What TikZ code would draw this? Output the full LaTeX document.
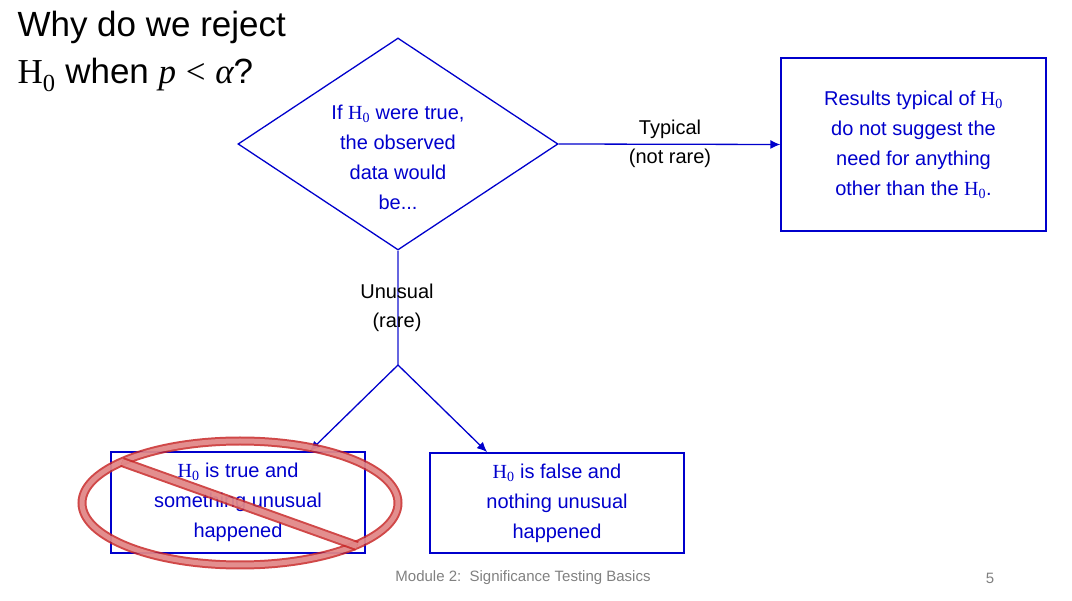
\documentclass[tikz,border=0pt]{standalone}
\usepackage{fontspec}
\setmainfont{Liberation Sans}
\setsansfont{Liberation Sans}
\newfontfamily\serifm{Liberation Serif}
\usetikzlibrary{shapes.geometric,arrows.meta}
\definecolor{bl}{RGB}{0,0,204}
\definecolor{rd}{RGB}{200,40,40}
\definecolor{pk}{RGB}{240,190,190}
\newcommand{\Hz}{{\serifm H\textsubscript{0}}}
\begin{document}
\begin{tikzpicture}[x=1pt,y=-1pt,
  box/.style={draw=bl,line width=1.3pt,align=center,text=bl,font=\fontsize{20}{30}\selectfont},
  arr/.style={draw=bl,line width=1.3pt,-{Latex[length=10pt,width=9pt]}},
  lab/.style={align=center,font=\sffamily\fontsize{20}{29}\selectfont}]
\useasboundingbox (0,0) rectangle (1072,601);
\node[anchor=north west,align=left,font=\sffamily\fontsize{35}{47}\selectfont] (title) at (14,8) {Why do we reject\\\Hz{} when {\serifm\itshape p} {\serifm <} {\serifm\itshape α}?};
\node[diamond,draw=bl,line width=1.3pt,minimum width=320pt,minimum height=212pt,inner sep=0pt] (d) at (398,144) {};
\node[align=center,text=bl,font=\fontsize{20}{30}\selectfont] (dt) at (398,157) {If \Hz{} were true,\\the observed\\data would\\be...};
\node[box,minimum width=265pt,minimum height=173pt] (r) at (913.5,144.5) {Results typical of \Hz\\do not suggest the\\need for anything\\other than the \Hz.};
\draw[arr] (d.east) -- (r.west);
\node[lab] (typ) at (670,144) {Typical\\(not rare)};
\coordinate (j) at (398,365);
\draw[bl!60,line width=1.3pt] (d.south) -- (j);
\node[lab] (un) at (397,308) {Unusual\\(rare)};
\node[box,minimum width=254pt,minimum height=101pt] (lb) at (238,502.5) {\Hz{} is true and\\something unusual\\happened};
\node[box,minimum width=254pt,minimum height=100pt] (rb) at (557,503) {\Hz{} is false and\\nothing unusual\\happened};
\draw[arr] (j) -- (310,451);
\draw[arr] (j) -- (487,452);
\draw[rd,line width=9pt,opacity=0.85] (240,503) ellipse (158pt and 62pt);
\draw[pk,line width=5pt,opacity=0.6] (240,503) ellipse (158pt and 62pt);
\draw[rd,line width=10pt,opacity=0.85] (122,462) -- (357,546);
\draw[pk,line width=6pt,opacity=0.6] (122,462) -- (357,546);
\node[text=gray,font=\sffamily\fontsize{15}{17}\selectfont] (foot) at (523,578) {Module 2:\ \ Significance Testing Basics};
\node[text=gray,font=\sffamily\fontsize{15}{17}\selectfont] (pg) at (990,578) {5};
\end{tikzpicture}
\end{document}
